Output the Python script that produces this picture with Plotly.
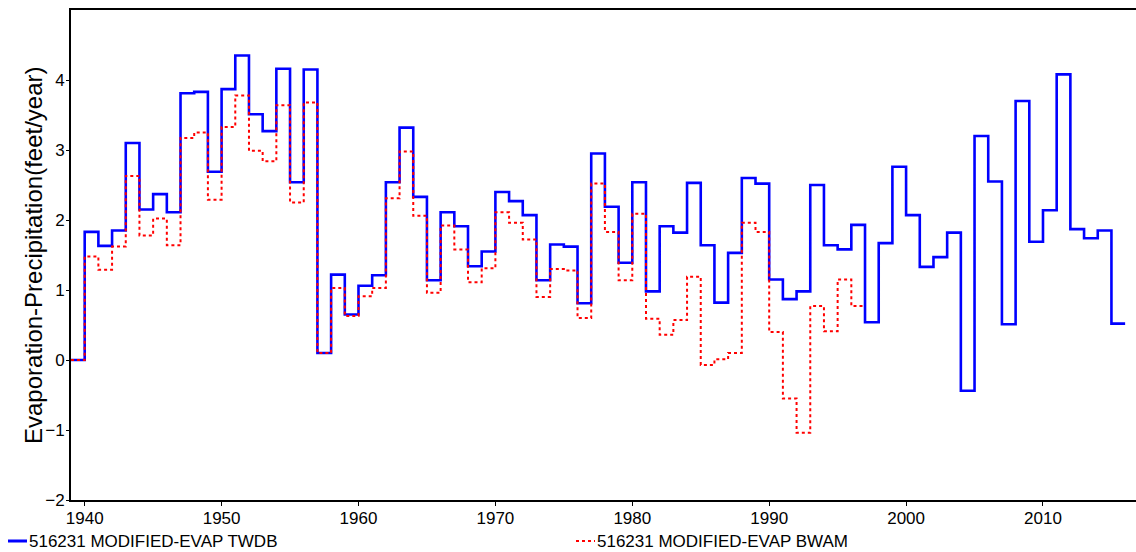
import plotly.graph_objects as go

years_twdb = list(range(1939, 2016))
twdb = [0.00, 1.83, 1.63, 1.85, 3.10, 2.15, 2.37, 2.11, 3.81, 3.83,
        2.69, 3.87, 4.35, 3.51, 3.27, 4.16, 2.54, 4.15, 0.10, 1.22,
        0.65, 1.06, 1.21, 2.54, 3.32, 2.33, 1.14, 2.11, 1.91, 1.34,
        1.55, 2.40, 2.27, 2.07, 1.14, 1.65, 1.62, 0.81, 2.95, 2.19,
        1.39, 2.54, 0.98, 1.91, 1.82, 2.53, 1.64, 0.82, 1.53, 2.60,
        2.52, 1.15, 0.87, 0.98, 2.50, 1.64, 1.58, 1.93, 0.54, 1.67,
        2.76, 2.07, 1.33, 1.47, 1.82, -0.44, 3.20, 2.55, 0.51, 3.70,
        1.69, 2.14, 4.08, 1.87, 1.74, 1.85, 0.52]

years_bwam = list(range(1939, 1997))
bwam = [0.00, 1.48, 1.29, 1.62, 2.63, 1.78, 2.02, 1.64, 3.17, 3.25,
        2.29, 3.33, 3.78, 2.99, 2.84, 3.64, 2.25, 3.68, 0.10, 1.03,
        0.63, 0.91, 1.03, 2.31, 2.98, 2.06, 0.96, 1.92, 1.58, 1.11,
        1.31, 2.11, 1.96, 1.72, 0.90, 1.30, 1.28, 0.60, 2.52, 1.83,
        1.14, 2.09, 0.59, 0.36, 0.57, 1.19, -0.07, 0.01, 0.10, 1.96,
        1.83, 0.40, -0.55, -1.04, 0.77, 0.41, 1.15, 0.77]

name_twdb = "516231 MODIFIED-EVAP TWDB"
name_bwam = "516231 MODIFIED-EVAP BWAM"
y_title = "Evaporation-Precipitation(feet/year)"
x_ticks = [1940, 1950, 1960, 1970, 1980, 1990, 2000, 2010]
y_ticks = [-2, -1, 0, 1, 2, 3, 4]

FONT = "Liberation Sans, Arial, sans-serif"

def closed(xs, ys):
    return xs + [xs[-1] + 1], ys + [ys[-1]]

fig = go.Figure()
x1, y1 = closed(years_twdb, twdb)
fig.add_trace(go.Scatter(x=x1, y=y1, mode="lines", line_shape="hv",
                         line=dict(color="rgb(0,0,255)", width=2.6),
                         name=name_twdb, showlegend=False))
x2, y2 = closed(years_bwam, bwam)
fig.add_trace(go.Scatter(x=x2, y=y2, mode="lines", line_shape="hv",
                         line=dict(color="rgb(255,0,0)", width=2, dash="dot"),
                         name=name_bwam, showlegend=False))

W, H = 1136, 552
L, T, B = 71, 10, 52
plot_w = W - L
plot_h = H - T - B
px_per_year = 13.69
x_min = 1939
x_max = x_min + plot_w / px_per_year

def px_x(px):
    return (px - L) / plot_w

def px_y(py):
    return (H - B - py) / plot_h

fig.update_layout(
    width=W, height=H,
    margin=dict(l=L, r=0, t=T, b=B, pad=0),
    paper_bgcolor="white", plot_bgcolor="white",
    font=dict(family=FONT, size=17, color="black"),
    xaxis=dict(range=[x_min, x_max], tickvals=x_ticks, ticks="outside",
               ticklen=4, tickwidth=1, tickcolor="black",
               showline=True, linecolor="black", linewidth=2, mirror=True,
               showgrid=False, zeroline=False, ticklabelstandoff=-2,
               tickfont=dict(family=FONT, size=17, color="black")),
    yaxis=dict(range=[-2, 5], tickvals=y_ticks, ticks="outside",
               ticklen=3, tickwidth=1, tickcolor="black",
               showline=True, linecolor="black", linewidth=2,
               showgrid=False, zeroline=False, ticklabelstandoff=-2,
               tickfont=dict(family=FONT, size=17, color="black")),
    showlegend=False,
)

# y-axis title
fig.add_annotation(xref="paper", yref="paper", x=px_x(33), y=px_y(255),
                   xanchor="center", yanchor="middle", textangle=-90,
                   text=y_title, showarrow=False,
                   font=dict(family=FONT, size=24, color="black"))

# legend drawn below the plot
ly = px_y(541)
fig.add_shape(type="line", xref="paper", yref="paper",
              x0=px_x(8), x1=px_x(27), y0=ly, y1=ly,
              line=dict(color="rgb(0,0,255)", width=3))
fig.add_shape(type="line", xref="paper", yref="paper",
              x0=px_x(576), x1=px_x(595), y0=ly, y1=ly,
              line=dict(color="rgb(255,0,0)", width=2, dash="dot"))
fig.add_annotation(xref="paper", yref="paper", x=px_x(27), y=ly,
                   xanchor="left", yanchor="middle",
                   text=name_twdb, showarrow=False,
                   font=dict(family=FONT, size=17, color="black"))
fig.add_annotation(xref="paper", yref="paper", x=px_x(595), y=ly,
                   xanchor="left", yanchor="middle",
                   text=name_bwam, showarrow=False,
                   font=dict(family=FONT, size=17, color="black"))

fig.write_html("out.html")
